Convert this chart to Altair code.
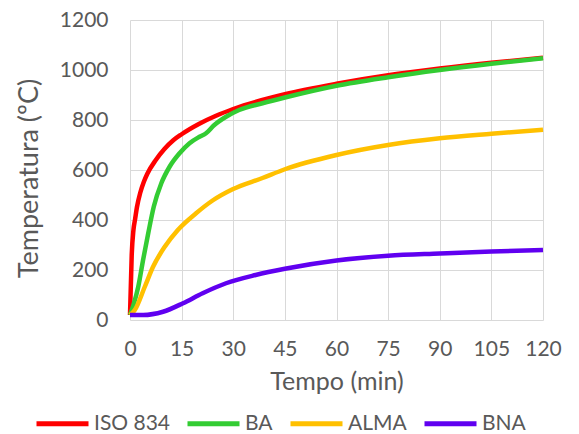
import altair as alt
import pandas as pd

series = ["ISO 834", "BA", "ALMA", "BNA"]
colors = ["#FF0000", "#33CC33", "#FFC000", "#6000F0"]

x_ticks = [0, 15, 30, 45, 60, 75, 90, 105, 120]
y_ticks = [0, 200, 400, 600, 800, 1000, 1200]

iso_t = [0, 0.5, 1, 1.5, 2, 3, 4, 5, 7.5, 10, 12.5, 15, 20, 25, 30, 45, 60, 75, 90, 105, 120]
iso_v = [20, 261, 360, 405, 450, 510, 552, 584, 640, 684, 718, 743, 784, 817, 844, 903, 945, 979, 1006, 1029, 1049]

ba_t = [0, 1, 2.4, 3.8, 5.3, 6.9, 9.1, 11.5, 14.4, 17.3, 20.2, 22.1, 24.5, 27.9, 31.7, 38.5, 45, 60, 75, 90, 105, 120]
ba_v = [20, 60, 133, 240, 347, 453, 547, 613, 667, 707, 733, 747, 780, 813, 840, 867, 890, 937, 971, 1000, 1025, 1047]

alma_t = [0, 1.4, 4.3, 6.7, 10.1, 13.9, 19.2, 24, 29.8, 38.5, 45, 60, 75, 90, 105, 120]
alma_v = [20, 40, 133, 213, 293, 360, 427, 478, 523, 568, 603, 660, 700, 727, 745, 761]

bna_t = [0, 3.8, 9.6, 15.4, 21.1, 27.9, 36.5, 45, 60, 75, 90, 105, 120]
bna_v = [20, 20, 33, 67, 107, 147, 180, 205, 238, 257, 266, 274, 280]

rows = []
for name, ts, vs in zip(series, [iso_t, ba_t, alma_t, bna_t], [iso_v, ba_v, alma_v, bna_v]):
    for t, v in zip(ts, vs):
        rows.append({"Serie": name, "Tempo": t, "Temperatura": v})
df = pd.DataFrame(rows)

FONT = "Lato"
GRAY = "#595959"

chart = alt.Chart(df).mark_line(strokeWidth=4.5, interpolate="monotone").encode(
    x=alt.X("Tempo:Q",
            scale=alt.Scale(domain=[0, 120], nice=False),
            axis=alt.Axis(values=x_ticks, title="Tempo (min)", grid=True,
                          domain=False, ticks=False, labelPadding=18,
                          labelOverlap=False, labelFlush=False,
                          titlePadding=10, titleFontSize=25)),
    y=alt.Y("Temperatura:Q",
            scale=alt.Scale(domain=[0, 1200], nice=False),
            axis=alt.Axis(values=y_ticks, format="d", title="Temperatura (ºC)", grid=True,
                          domain=False, ticks=False, labelPadding=22,
                          titlePadding=16, titleFontSize=27, titleY=158)),
    color=alt.Color("Serie:N",
                    scale=alt.Scale(domain=series, range=colors),
                    legend=alt.Legend(title=None, orient="none", direction="horizontal",
                                      columns=4, legendX=-96, legendY=375,
                                      symbolType="stroke", symbolSize=2704,
                                      symbolStrokeWidth=5, labelOffset=3,
                                      columnPadding=7, gridAlign="each",
                                      labelFontSize=21,
                                      labelFont=FONT, labelColor=GRAY)),
    detail="Serie:N",
).properties(
    width=413,
    height=300,
    autosize=alt.AutoSizeParams(type="none"),
    padding={"left": 122, "top": 12, "right": 28, "bottom": 114},
).configure_view(strokeWidth=0).configure_axis(
    labelFont=FONT, labelFontSize=21, labelColor=GRAY,
    titleFont=FONT, titleColor=GRAY, titleFontWeight="normal",
    gridColor="#D9D9D9", gridWidth=1,
)

chart.save("out.html", embed_options={"renderer": "svg", "actions": False})
